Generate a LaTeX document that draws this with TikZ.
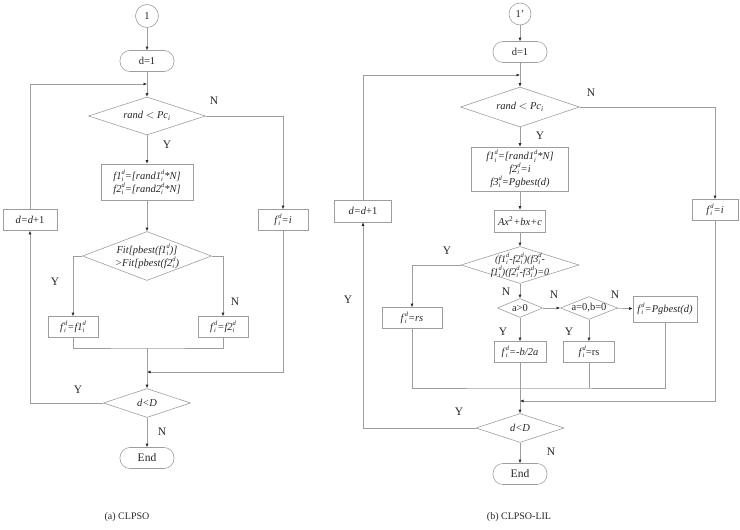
\documentclass[tikz,border=0pt]{standalone}
\usepackage{fontspec}
\setmainfont{Liberation Serif}
\usetikzlibrary{arrows.meta,shapes.geometric}
\newcommand{\sid}{\raisebox{-2.2pt}{\fontsize{6.5}{6}\selectfont\itshape\shortstack[l]{d\\i}}}

\begin{document}
\begin{tikzpicture}[x=1pt,y=-1pt,
  >={Latex[length=3.5pt,width=3pt,color=black!85]},
  every node/.style={font=\fontsize{10.5}{11.5}\selectfont,text=black!85},
  ln/.style={draw=black!38,line width=0.6pt},
  box/.style={rectangle,draw=black!38,line width=0.6pt,inner sep=1pt},
  term/.style={box,rounded corners=10pt,minimum width=54pt,minimum height=21pt},
  circ/.style={circle,draw=black!38,line width=0.6pt,minimum size=23pt,inner sep=0pt},
  dia/.style={diamond,draw=black!38,line width=0.6pt,inner sep=0pt,aspect=2.5},
  yn/.style={font=\fontsize{11.5}{12}\selectfont},
  captxt/.style={font=\fontsize{10}{12}\selectfont}]
  \useasboundingbox (0,0) rectangle (740,530);

  % (a) CLPSO
  \node[circ] (a0) at (147,16) {1};
  \node[term] (a1) at (147,61) {d=1};
  \coordinate (aj) at (147,84);
  \node[dia,minimum width=117pt,minimum height=38pt] (a2) at (147,116) {\textit{rand} $<$ \textit{Pc}\textsubscript{\itshape i}};
  \node[box,minimum width=92pt,minimum height=36pt,align=center] (a3) at (147,182)
    {\textit{f1}\sid\textit{=[rand1}\sid\textit{*N]}\\\textit{f2}\sid\textit{=[rand2}\sid\textit{*N]}};
  \node[box,minimum width=50pt,minimum height=21pt] (a5) at (283,220) {\textit{f}\sid\textit{=i}};
  \node[box,minimum width=54pt,minimum height=21pt] (a6) at (30,220) {\textit{d=d}+1};
  \node[dia,minimum width=129pt,minimum height=49pt,
    label={[align=center]center:\textit{Fit[pbest(f1}\sid\textit{)]}\\\textit{>Fit[pbest(f2}\sid\textit{)}}] (a4) at (147,256) {};
  \node[box,minimum width=50pt,minimum height=21pt] (a8) at (73,327) {\textit{f}\sid\textit{=f1}\sid};
  \node[box,minimum width=50pt,minimum height=21pt] (a9) at (223,327) {\textit{f}\sid\textit{=f2}\sid};
  \coordinate (am) at (147,348);
  \coordinate (aj2) at (147,372);
  \node[dia,minimum width=87pt,minimum height=29pt] (a7) at (147,403) {\textit{d<D}};
  \node[term,font=\fontsize{11.5}{12}\selectfont] (a10) at (147,458) {End};

  \draw[ln,->] (a0) -- (a1);
  \draw[ln,->] (a1) -- (a2);
  \draw[ln,->] (a6.north) |- (aj);
  \draw[ln,->] (a2) -- (a3);
  \draw[ln,->] (a2.east) -| (a5.north);
  \draw[ln,->] (a3) -- (a4);
  \draw[ln,->] (a4.west) -| (a8.north);
  \draw[ln,->] (a4.east) -| (a9.north);
  \draw[ln] (a8.south) |- (am) -| (a9.south);
  \draw[ln,->] (a5.south) |- (aj2);
  \draw[ln,->] (am) -- (a7);
  \draw[ln,->] (a7.west) -| (a6.south);
  \draw[ln,->] (a7) -- (a10);

  \node[yn] (na1) at (214,101) {N};
  \node[yn] (ya1) at (167,145) {Y};
  \node[yn] (ya2) at (55,282) {Y};
  \node[yn] (na2) at (235,302) {N};
  \node[yn] (ya3) at (78,390) {Y};
  \node[yn] (na3) at (162,432) {N};
  \node[captxt] (capa) at (127,517) {(a) CLPSO};

  % (b) CLPSO-LIL
  \node[circ,minimum size=22pt] (b0) at (520,14) {1'};
  \node[term] (b1) at (520,52) {d=1};
  \coordinate (bj) at (520,75);
  \node[dia,minimum width=119pt,minimum height=40pt] (b2) at (520,107) {\textit{rand} $<$ \textit{Pc}\textsubscript{\itshape i}};
  \node[box,minimum width=97pt,minimum height=44pt,align=center] (b3) at (520,169)
    {\textit{f1}\sid\textit{=[rand1}\sid\textit{*N]}\\\textit{f2}\sid\textit{=i}\\\textit{f3}\sid\textit{=Pgbest(d)}};
  \node[box,minimum width=51pt,minimum height=22pt] (b4) at (520,221) {\textit{Ax}\textsuperscript{2}\textit{+bx+c}};
  \node[box,minimum width=46pt,minimum height=21pt] (b5) at (715,210) {\textit{f}\sid\textit{=i}};
  \node[box,minimum width=57pt,minimum height=22pt] (b6) at (363,211) {\textit{d=d}+1};
  \node[dia,minimum width=118pt,minimum height=37pt,
    label={[align=center,inner sep=0pt,font=\fontsize{10}{10.5}\selectfont]center:\textit{(f1}\sid\textit{-f2}\sid\textit{)(f3}\sid\textit{-}\\\textit{f1}\sid\textit{)(f2}\sid\textit{-f3}\sid\textit{)=0}}] (b7) at (520,265) {};
  \node[box,minimum width=60pt,minimum height=21pt] (b8) at (412,318) {\textit{f}\sid\textit{=rs}};
  \node[dia,minimum width=45pt,minimum height=19pt] (b9) at (520,308) {a>0};
  \node[dia,minimum width=52pt,minimum height=20pt] (b10) at (589,308) {a=0,b=0};
  \node[box,minimum width=64pt,minimum height=26pt] (b11) at (665,309) {\textit{f}\sid\textit{=Pgbest(d)}};
  \node[box,minimum width=52pt,minimum height=21pt] (b12) at (520,352) {\textit{f}\sid\textit{=-b/2a}};
  \node[box,minimum width=51pt,minimum height=21pt] (b13) at (589,352) {\textit{f}\sid=rs};
  \coordinate (bm) at (520,388);
  \coordinate (bj2) at (520,401);
  \node[dia,minimum width=88pt,minimum height=29pt] (b14) at (520,428) {\textit{d<D}};
  \node[term,font=\fontsize{11.5}{12}\selectfont] (b15) at (520,474) {End};

  \draw[ln,->] (b0) -- (b1);
  \draw[ln,->] (b1) -- (b2);
  \draw[ln,->] (b6.north) |- (bj);
  \draw[ln,->] (b2) -- (b3);
  \draw[ln,->] (b2.east) -| (b5.north);
  \draw[ln,->] (b3) -- (b4);
  \draw[ln,->] (b4) -- (b7);
  \draw[ln,->] (b7.west) -| (b8.north);
  \draw[ln,->] (b7) -- (b9);
  \draw[ln,->] (b9) -- (b10);
  \draw[ln,->] (b10) -- (b11);
  \draw[ln,->] (b9) -- (b12);
  \draw[ln,->] (b10) -- (b13);
  \draw[ln] (b8.south) |- (bm) -| (b11.south);
  \draw[ln] (b13.south) -- (b13.south |- bm);
  \draw[ln,->] (b12) -- (b14);
  \draw[ln,->] (b5.south) |- (bj2);
  \draw[ln,->] (b14.west) -| (b6.south);
  \draw[ln,->] (b14) -- (b15);

  \node[yn] (nb1) at (591,93) {N};
  \node[yn] (yb1) at (540,136) {Y};
  \node[yn] (yb2) at (447,251) {Y};
  \node[yn] (nb2) at (506,292) {N};
  \node[yn] (nb3) at (554,295) {N};
  \node[yn] (nb4) at (615,295) {N};
  \node[yn] (yb3) at (503,332) {Y};
  \node[yn] (yb4) at (569,332) {Y};
  \node[yn] (yb5) at (348,300) {Y};
  \node[yn] (yb6) at (459,412) {Y};
  \node[yn] (nb5) at (551,452) {N};
  \node[captxt] (capb) at (519,517) {(b) CLPSO-LIL};
\end{tikzpicture}
\end{document}
